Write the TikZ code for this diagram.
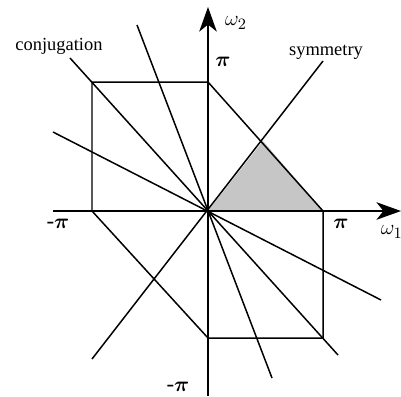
\documentclass[tikz,border=0pt]{standalone}
\usepackage{amsmath}
\usepackage{fontspec}
\setmainfont{Liberation Serif}
\usetikzlibrary{arrows.meta}
\definecolor{regiongray}{HTML}{C6C6C6}

\begin{document}
\begin{tikzpicture}[x=0.02cm,y=-0.02cm,line width=0.85pt,
  axis/.style={-{Stealth[length=14pt,width=10pt,inset=4pt]}},
  lbl/.style={font=\fontsize{10.5}{12}\selectfont,inner sep=0pt},
  mlbl/.style={font=\fontsize{13}{15}\selectfont,inner sep=0pt}]
\useasboundingbox (0,0) rectangle (401,396);
\coordinate (O) at (208,211);
% shaded region
\fill[regiongray] (O) -- (323,211) -- (263,141) -- cycle;
% hexagon
\draw (92,82) -- (208,82) -- (323,211) -- (323,338) -- (208,338) -- (92,211) -- cycle;
% lines through the origin
\draw (70,58) -- (338,355);
\draw (137,25) -- (272,378);
\draw (53,132) -- (381,300);
\draw (92,359) -- (323,61);
% axes
\draw[axis] (53,211) -- (401,211);
\draw[axis] (208,396) -- (208,7);
% labels
\node[mlbl] (w2) at (236,23) {$\omega_2$};
\node[mlbl,anchor=west] (w1) at (380,232) {$\omega_1$};
\node[mlbl] (piy) at (223,62) {$\boldsymbol{\pi}$};
\node[mlbl] (pix) at (341,224) {$\boldsymbol{\pi}$};
\node[mlbl] (mpix) at (58,224) {-$\boldsymbol{\pi}$};
\node[mlbl] (mpiy) at (178,387) {-$\boldsymbol{\pi}$};
\node[lbl] (conj) at (59,46) {conjugation};
\node[lbl] (symm) at (326,52) {symmetry};
\end{tikzpicture}
\end{document}
